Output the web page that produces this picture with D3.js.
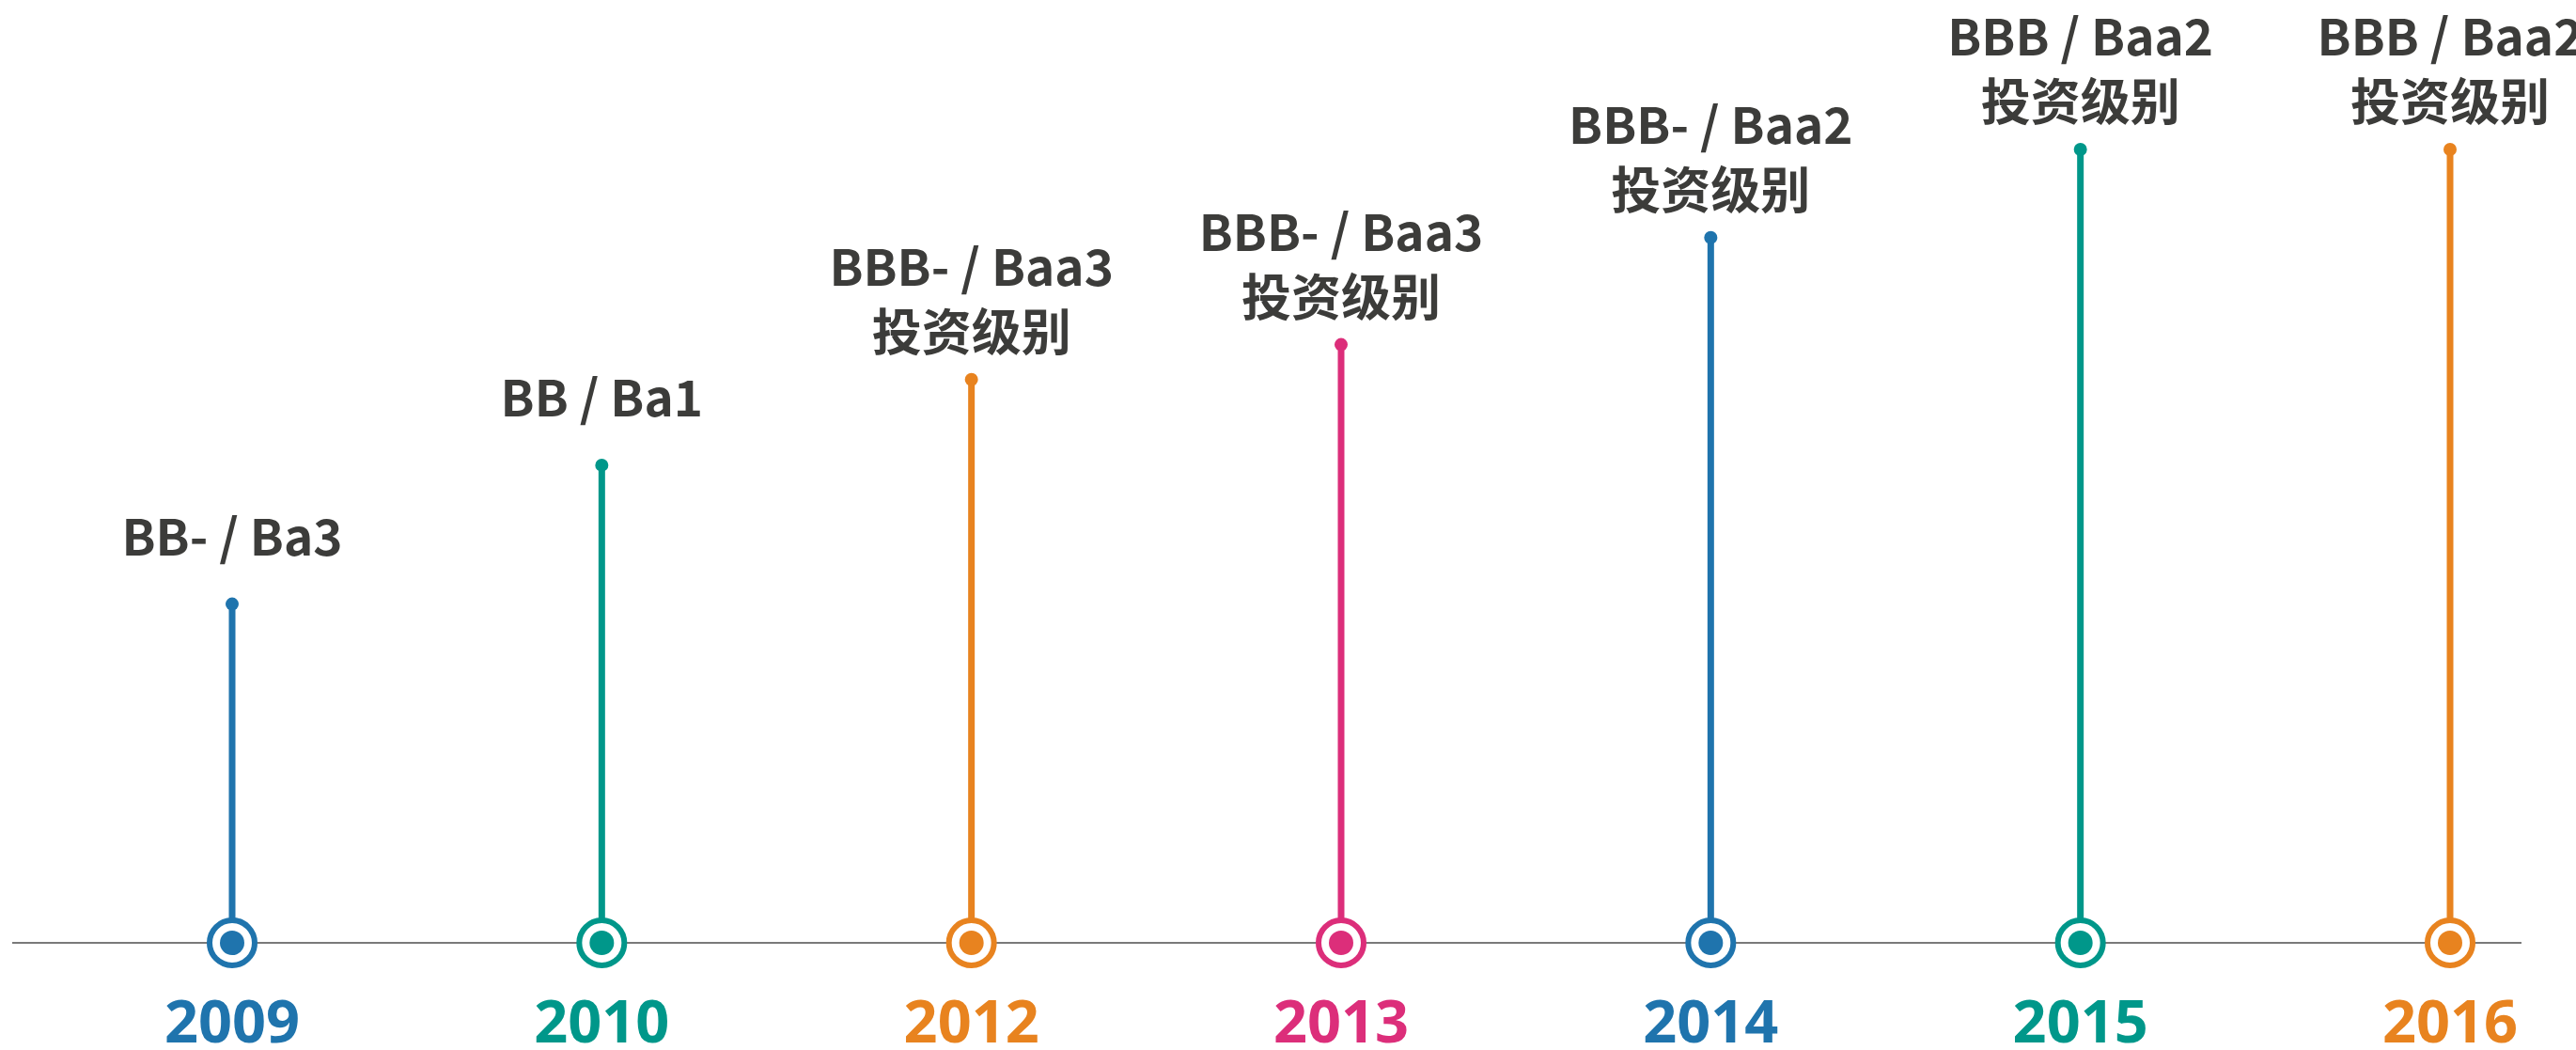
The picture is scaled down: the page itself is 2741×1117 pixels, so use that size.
<!DOCTYPE html>
<html>
<head>
<meta charset="utf-8">
<script src="https://cdn.jsdelivr.net/npm/d3@7"></script>
<style>
  body { margin: 0; background: #fff; }
  svg { display: block; }
</style>
</head>
<body>
<div id="vis1"></div>
<script>
const FRAME_WIDTH = 2741;
const FRAME_HEIGHT = 1117;

// data
const YEARS = ["2009", "2010", "2012", "2013", "2014", "2015", "2016"];
const LEVELS = [42.7, 60.2, 71.0, 75.4, 88.9, 100, 100];   // relative stem height
const RATINGS = ["BB- / Ba3", "BB / Ba1", "BBB- / Baa3", "BBB- / Baa3",
                 "BBB- / Baa2", "BBB / Baa2", "BBB / Baa2"];
const GRADE = ["", "", "投资级别", "投资级别", "投资级别", "投资级别", "投资级别"];
const COLORS = ["#1f74ad", "#00978a", "#e8831f", "#dc2e7a", "#1f74ad", "#00978a", "#e8831f"];

const BASE_Y = 1003;

const FRAME = d3.select("#vis1")
                .append("svg")
                  .attr("width", FRAME_WIDTH)
                  .attr("height", FRAME_HEIGHT);

const data = YEARS.map((y, i) => ({
  year: y, level: LEVELS[i], rating: RATINGS[i], grade: GRADE[i], color: COLORS[i]
}));

const X_SCALE = d3.scalePoint()
                  .domain(YEARS)
                  .range([247, 2607]);

const Y_SCALE = d3.scaleLinear()
                  .domain([0, 100])
                  .range([BASE_Y, 159]);

// base line
FRAME.append("line")
      .attr("x1", 13).attr("x2", 2683)
      .attr("y1", BASE_Y).attr("y2", BASE_Y)
      .attr("stroke", "#7a7a7a")
      .attr("stroke-width", 2);

const g = FRAME.selectAll(".item")
  .data(data)
  .enter()
  .append("g")
    .attr("class", "item")
    .attr("transform", d => "translate(" + X_SCALE(d.year) + ",0)");

// stem
g.append("line")
  .attr("x1", 0).attr("x2", 0)
  .attr("y1", d => Y_SCALE(d.level))
  .attr("y2", BASE_Y - 24)
  .attr("stroke", d => d.color)
  .attr("stroke-width", 7);

g.append("circle")
  .attr("cy", d => Y_SCALE(d.level))
  .attr("r", 7)
  .attr("fill", d => d.color);

// ring on the axis
g.append("circle")
  .attr("cy", BASE_Y)
  .attr("r", 24)
  .attr("fill", "#fff")
  .attr("stroke", d => d.color)
  .attr("stroke-width", 6);

g.append("circle")
  .attr("cy", BASE_Y)
  .attr("r", 13)
  .attr("fill", d => d.color);

// rating labels
const label = g.append("text")
  .attr("text-anchor", "middle")
  .attr("font-family", "'Noto Sans CJK SC', 'Noto Sans', sans-serif")
  .attr("font-weight", 700)
  .attr("font-size", 53)
  .attr("fill", "#3c3c3a");

label.append("tspan")
  .attr("x", 0)
  .attr("y", d => Y_SCALE(d.level) - (d.grade ? 100 : 52))
  .text(d => d.rating);

label.filter(d => d.grade)
  .append("tspan")
  .attr("x", 0)
  .attr("y", d => Y_SCALE(d.level) - 31)
  .text(d => d.grade);

// year labels
g.append("text")
  .attr("text-anchor", "middle")
  .attr("y", 1109)
  .attr("font-family", "'Open Sans', sans-serif")
  .attr("font-weight", 700)
  .attr("font-size", 63)
  .attr("fill", d => d.color)
  .text(d => d.year);
</script>
</body>
</html>
